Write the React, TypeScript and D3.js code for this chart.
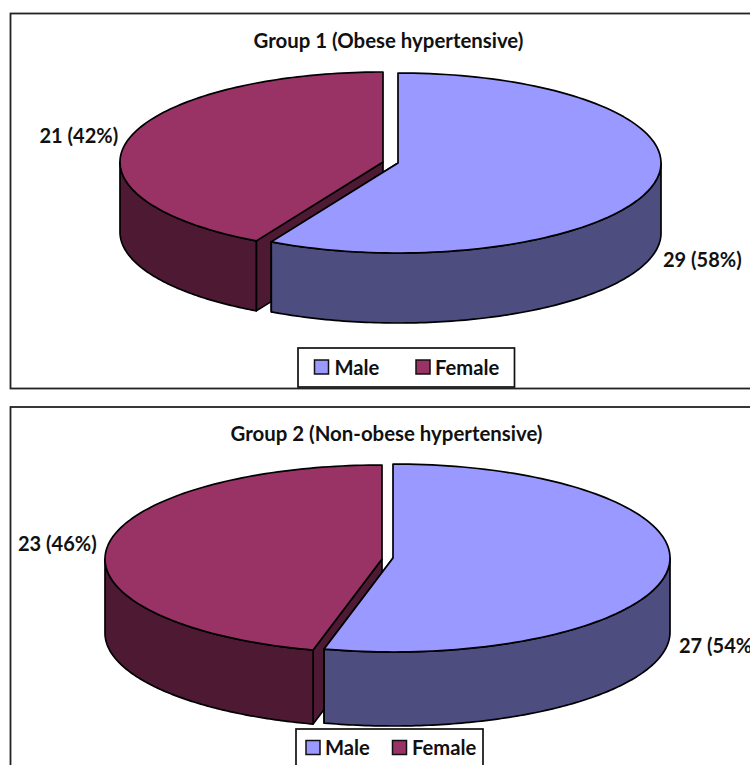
import React from "react";
import * as d3 from "d3";

const categories = ["Male", "Female"];
const groupTitles = ["Group 1 (Obese hypertensive)", "Group 2 (Non-obese hypertensive)"];
const groupOneCounts = [29, 21];
const groupTwoCounts = [27, 23];
const groupOneLabels = ["29 (58%)", "21 (42%)"];
const groupTwoLabels = ["27 (54%)", "23 (46%)"];

const topColors = ["#9999FF", "#993366"];
const sideColors = ["#4D4D80", "#4D1933"];
const FONT = "Lato, Carlito, sans-serif";

type Offset = { x: number; y: number };
type PanelLayout = {
  frame: { x: number; y: number; width: number; height: number };
  titleY: number;
  rx: number;
  ry: number;
  depth: number;
  centers: Offset[];
  labels: { x: number; y: number; anchor: string }[];
  legend: { x: number; y: number; width: number; height: number; swatchX: number[]; textX: number[]; swatchY: number; textY: number };
  titleX: number;
};

const panelOne: PanelLayout = {
  frame: { x: 10.5, y: 13.5, width: 760, height: 375 },
  titleX: 388.5,
  titleY: 48,
  rx: 263,
  ry: 90,
  depth: 70,
  centers: [{ x: 398, y: 163 }, { x: 383, y: 162 }],
  labels: [
    { x: 663, y: 267, anchor: "start" },
    { x: 39.5, y: 143, anchor: "start" },
  ],
  legend: { x: 298, y: 348, width: 216.5, height: 39, swatchX: [314.5, 416], textX: [334.5, 435], swatchY: 360, textY: 374.5 },
};

const panelTwo: PanelLayout = {
  frame: { x: 10.5, y: 407, width: 760, height: 380 },
  titleX: 386.5,
  titleY: 441,
  rx: 277,
  ry: 94,
  depth: 74,
  centers: [{ x: 393, y: 558 }, { x: 382, y: 559 }],
  labels: [
    { x: 679, y: 653, anchor: "start" },
    { x: 18, y: 550.5, anchor: "start" },
  ],
  legend: { x: 296, y: 729, width: 187, height: 40, swatchX: [306, 392.5], textX: [325, 412], swatchY: 740.5, textY: 754.5 },
};

function Pie3D({ values, labels, title, layout }: { values: number[]; labels: string[]; title: string; layout: PanelLayout }) {
  const arcs = d3
    .pie<number>()
    .sort(null)
    .startAngle(0)
    .endAngle(2 * Math.PI)(values);

  // Tilted view of the circle: angle 0 points up, angles run clockwise.
  const project = (c: Offset, angle: number, drop = 0): [number, number] => [
    c.x + layout.rx * Math.sin(angle),
    c.y - layout.ry * Math.cos(angle) + drop,
  ];

  const rimPath = (c: Offset, a0: number, a1: number, drop = 0) => {
    const steps = d3.range(0, 121).map((i) => a0 + ((a1 - a0) * i) / 120);
    return steps.map((a) => project(c, a, drop));
  };

  const line = d3.line();

  // Female slice is painted first so the male slice covers its inner wall.
  const order = [1, 0];

  return (
    <g>
      <rect
        x={layout.frame.x}
        y={layout.frame.y}
        width={layout.frame.width}
        height={layout.frame.height}
        fill="#fff"
        stroke="#222"
        strokeWidth={1.8}
      />
      <text x={layout.titleX} y={layout.titleY} textAnchor="middle" fontFamily={FONT} fontWeight={700} fontSize={20.4} fill="#111">
        {title}
      </text>
      {order.map((i) => {
        const arc = arcs[i];
        const c = layout.centers[i];
        const a0 = arc.startAngle;
        const a1 = arc.endAngle;
        // Outer wall covers only the part of the rim that faces the viewer.
        const vis0 = Math.max(a0, Math.PI / 2);
        const vis1 = Math.min(a1, (3 * Math.PI) / 2);
        const outer = rimPath(c, vis0, vis1);
        const outerLow = rimPath(c, vis0, vis1, layout.depth).reverse();
        const cutAngle = i === 0 ? a1 : a0;
        const wall: [number, number][] = [
          [c.x, c.y],
          project(c, cutAngle),
          project(c, cutAngle, layout.depth),
          [c.x, c.y + layout.depth],
        ];
        const top: [number, number][] = [[c.x, c.y], ...rimPath(c, a0, a1)];
        return (
          <g key={categories[i]} stroke="#000" strokeWidth={1.7} strokeLinejoin="round">
            <path d={line(wall) + "Z"} fill={sideColors[i]} />
            <path d={line([...outer, ...outerLow]) + "Z"} fill={sideColors[i]} />
            <path d={line(top) + "Z"} fill={topColors[i]} />
          </g>
        );
      })}
      {labels.map((t, i) => (
        <text key={t} x={layout.labels[i].x} y={layout.labels[i].y} textAnchor={layout.labels[i].anchor} fontFamily={FONT} fontWeight={700} fontSize={20} fill="#111">
          {t}
        </text>
      ))}
      <rect x={layout.legend.x} y={layout.legend.y} width={layout.legend.width} height={layout.legend.height} fill="#fff" stroke="#111" strokeWidth={1.7} />
      {categories.map((name, i) => (
        <g key={name}>
          <rect x={layout.legend.swatchX[i]} y={layout.legend.swatchY} width={14} height={14} fill={topColors[i]} stroke="#111" strokeWidth={1.5} />
          <text x={layout.legend.textX[i]} y={layout.legend.textY} fontFamily={FONT} fontWeight={700} fontSize={20.2} fill="#111">
            {name}
          </text>
        </g>
      ))}
    </g>
  );
}

export default function App() {
  return (
    <svg width={750} height={765} style={{ position: "fixed", left: 0, top: 0, display: "block", background: "#fff" }}>
      <Pie3D values={groupOneCounts} labels={groupOneLabels} title={groupTitles[0]} layout={panelOne} />
      <Pie3D values={groupTwoCounts} labels={groupTwoLabels} title={groupTitles[1]} layout={panelTwo} />
    </svg>
  );
}
